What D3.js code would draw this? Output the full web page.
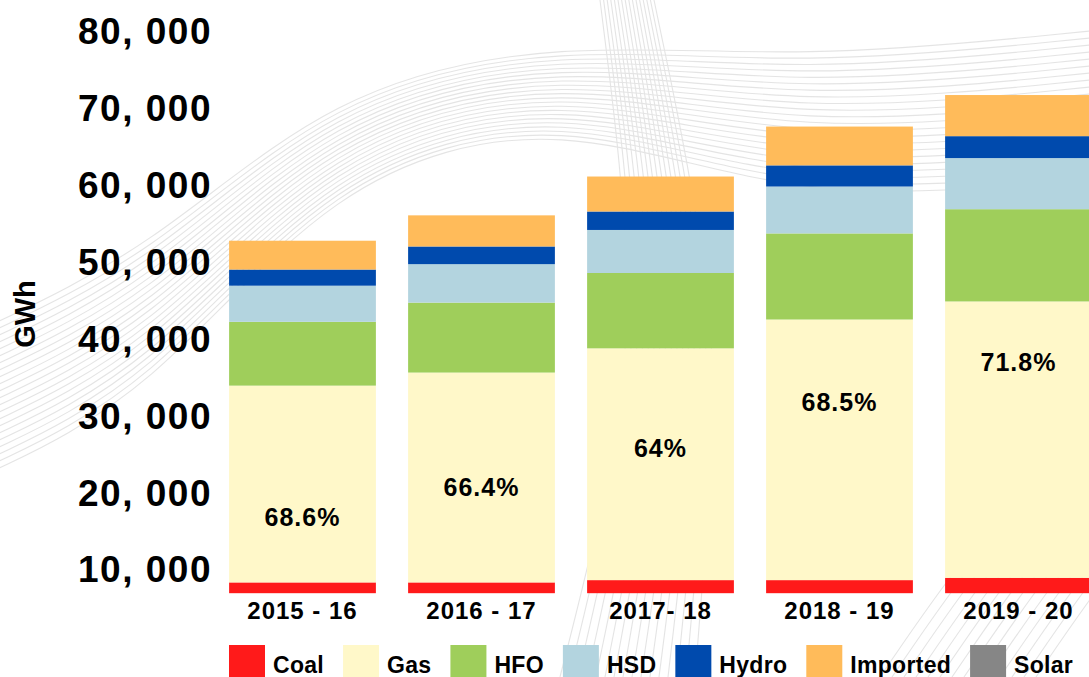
<!DOCTYPE html>
<html>
<head>
<meta charset="utf-8">
<script src="https://cdn.jsdelivr.net/npm/d3@7"></script>
<style>
  html, body { margin: 0; padding: 0; background: #fff; overflow: hidden; }
  text { font-family: "Liberation Sans", Arial, sans-serif; font-weight: bold; fill: #000; }
</style>
</head>
<body>
<div id="chart"></div>
<script>
// generation by source, GWh
var years = ["2015 - 16", "2016 - 17", "2017- 18", "2018 - 19", "2019 - 20"];
var sources = ["Coal", "Gas", "HFO", "HSD", "Hydro", "Imported", "Solar"];
var coal     = [1400, 1400, 1700, 1700, 2000];
var gas      = [25600, 27300, 30150, 33900, 35950];
var hfo      = [8300, 9100, 9800, 11200, 12000];
var hsd      = [4700, 5000, 5600, 6100, 6650];
var hydro    = [2100, 2300, 2400, 2750, 2850];
var imported = [3750, 4050, 4550, 5050, 5350];
var solar    = [0, 0, 0, 0, 0];
var gasShare = ["68.6%", "66.4%", "64%", "68.5%", "71.8%"];
var gasShareAt = [16900, 20800, 25800, 31900, 37000];
var yTicks = [10000, 20000, 30000, 40000, 50000, 60000, 70000, 80000];

var colors = ["#ff1a1a", "#fff8c9", "#9fce5b", "#b3d4df", "#004aad", "#ffbb5a", "#868686"];

var width = 1089,
    height = 677,
    floor = 7000; // bars start here on the printed axis

var rows = years.map(function(yr, i) {
  return { year: yr, Coal: coal[i], Gas: gas[i], HFO: hfo[i], HSD: hsd[i],
           Hydro: hydro[i], Imported: imported[i], Solar: solar[i] };
});

var svg = d3.select("#chart").append("svg")
    .attr("width", width)
    .attr("height", height);

// faint wavy background lines
var bg = svg.append("g").attr("fill", "none").attr("stroke", "#dcdcdc").attr("stroke-width", 1.1).attr("opacity", 0.75);
var wave = d3.line().curve(d3.curveBasis);
for (var k = 0; k < 22; k++) {
  var o = k * 7;
  bg.append("path").attr("d", wave([[-20, 330 + o], [150, 250 + o], [330, 90 + o * 0.6], [560, 40 + o * 0.5], [800, 60 + o], [1100, 30 + o]]));
}
for (var k = 0; k < 16; k++) {
  var o = k * 9;
  bg.append("path").attr("d", wave([[560 + o, 677], [600 + o * 0.8, 520], [640 + o * 0.6, 320], [600 + o * 0.4, 0]]));
}
for (var k = 0; k < 14; k++) {
  var o = k * 12;
  bg.append("path").attr("d", wave([[880 + o, 677], [960 + o, 560], [1040 + o, 470]]));
}

var x = d3.scaleBand()
    .domain(years)
    .range([213, 1108])
    .paddingInner(0.18)
    .paddingOuter(0.09);

var y = d3.scaleLinear()
    .domain([0, 80000])
    .range([647, 32]);

var color = d3.scaleOrdinal().domain(sources).range(colors);

var stack = d3.stack().keys(sources);

svg.append("g").selectAll("g")
    .data(stack(rows))
  .enter().append("g")
    .attr("fill", function(d) { return color(d.key); })
  .selectAll("rect")
    .data(function(d) { return d; })
  .enter().append("rect")
    .attr("x", function(d) { return x(d.data.year); })
    .attr("width", x.bandwidth())
    .attr("y", function(d) { return y(d[1] + floor); })
    .attr("height", function(d) { return y(d[0] + floor) - y(d[1] + floor); });

// gas share labels
svg.append("g").selectAll("text")
    .data(years)
  .enter().append("text")
    .attr("x", function(d) { return x(d) + x.bandwidth() / 2; })
    .attr("y", function(d, i) { return y(gasShareAt[i]); })
    .attr("dy", "0.35em")
    .attr("text-anchor", "middle")
    .style("font-size", "25px")
    .style("letter-spacing", "1px")
    .text(function(d, i) { return gasShare[i]; });

// y axis
var yAxis = svg.append("g")
    .attr("transform", "translate(215,0)")
    .call(d3.axisLeft(y)
      .tickValues(yTicks)
      .tickSize(0)
      .tickPadding(3)
      .tickFormat(function(d) { return d3.format(",")(d).replace(",", ", "); }));
yAxis.select(".domain").remove();
yAxis.selectAll("text")
    .attr("fill", "#000")
    .style("font-family", '"Liberation Sans", Arial, sans-serif')
    .style("font-weight", "bold")
    .style("font-size", "37px")
    .style("letter-spacing", "1.5px");

svg.append("text")
    .attr("transform", "translate(35,314) rotate(-90)")
    .attr("text-anchor", "middle")
    .style("font-size", "29px")
    .text("GWh");

// x axis
var xAxis = svg.append("g")
    .attr("transform", "translate(0," + y(floor) + ")")
    .call(d3.axisBottom(x).tickSize(0).tickPadding(9));
xAxis.select(".domain").remove();
xAxis.selectAll("text")
    .attr("fill", "#000")
    .style("font-family", '"Liberation Sans", Arial, sans-serif')
    .style("font-weight", "bold")
    .style("font-size", "24px")
    .style("letter-spacing", "1px");

// legend
var legend = svg.append("g");
var lx = 229;
sources.forEach(function(s) {
  var item = legend.append("g").attr("transform", "translate(" + lx + ",0)");
  item.append("rect")
      .attr("y", 645)
      .attr("width", 36)
      .attr("height", 34)
      .attr("fill", color(s));
  var t = item.append("text")
      .attr("x", 44)
      .attr("y", 673)
      .style("font-size", "23px")
      .style("letter-spacing", "0.3px")
      .text(s);
  lx += 44 + t.node().getComputedTextLength() + 19;
});
</script>
</body>
</html>
